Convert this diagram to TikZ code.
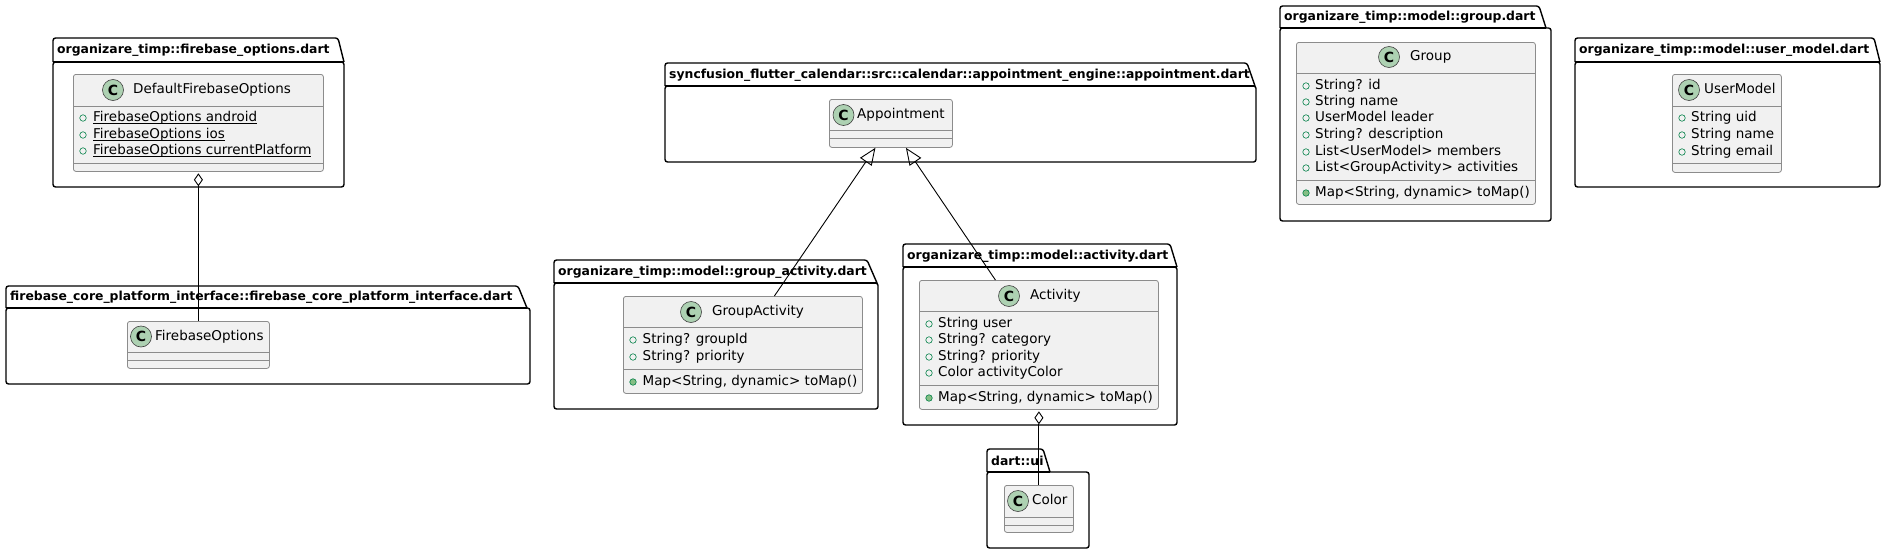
\documentclass[tikz,border=0pt]{standalone}
\usepackage{fontspec}
\setmainfont{DejaVu Sans}
\usetikzlibrary{arrows.meta,calc}
\definecolor{classfill}{HTML}{F1F1F1}
\definecolor{classline}{HTML}{8C8C8C}
\definecolor{iconfill}{HTML}{ADD1B2}
\definecolor{visline}{HTML}{038048}
\definecolor{visfill}{HTML}{84BE84}
\tikzset{
 pkgbox/.style={draw=black, line width=1.4pt, fill=white, rounded corners=2.5pt},
 pkgline/.style={draw=black, line width=1.4pt},
 pkgtitle/.style={anchor=west, inner sep=0pt, font=\fontsize{12.4}{14}\selectfont\bfseries},
 classbox/.style={draw=classline, line width=0.8pt, fill=classfill, rounded corners=2.5pt, inner sep=0pt, anchor=north west},
 sepline/.style={draw=classline, line width=0.8pt},
 cicon/.style={circle, draw=black!75, line width=0.6pt, fill=iconfill, minimum size=21pt, inner sep=0pt, font=\fontsize{14}{14}\selectfont\bfseries},
 ctitle/.style={anchor=west, inner sep=0pt, text height=10pt, text depth=3pt, font=\fontsize{13.5}{16}\selectfont},
 member/.style={anchor=west, inner sep=0pt, text height=10pt, text depth=3pt, font=\fontsize{13.5}{16}\selectfont},
 fieldvis/.style={circle, draw=visline, line width=0.6pt, minimum size=6.5pt, inner sep=0pt},
 methvis/.style={circle, draw=visline, fill=visfill, line width=0.6pt, minimum size=6.5pt, inner sep=0pt},
 link/.style={draw=black, line width=0.9pt},
}
% underline drawn as a rule under the text box
\newcommand\ulx[1]{\setbox0=\hbox{#1}\rlap{\rule[-2.6pt]{\wd0}{0.9pt}}\box0}
% #1 name, #2 x1, #3 ytab, #4 ybody, #5 xtab, #6 xslant, #7 x2, #8 y2, #9 title
\newcommand\umlpkg[9]{%
 \draw[pkgbox] (#2,#4) rectangle (#7,#8);
 \draw[pkgbox] (#2,#4) -- (#2,#3) -- (#5,#3) -- (#6,#4);
 \draw[pkgline] (#2,#4) -- (#6,#4);
 \node[pkgtitle] (#1) at ({#2+4},{(#3+#4)/2+0.5}) {#9};
}
% #1 name, #2 x, #3 y, #4 w, #5 h
\newcommand\umlclass[5]{%
 \node[classbox, minimum width=#4pt, minimum height=#5pt] (#1) at (#2,#3) {};
}
\newcommand\umlsep[3]{\draw[sepline] (#1,#3) -- (#2,#3);}
\begin{document}
\begin{tikzpicture}[x=1pt,y=-1pt]
\useasboundingbox (0,0) rectangle (1886,554);

% ---------- packages ----------
\umlpkg{pA}{53}{38}{62}{338}{344}{344}{187}{organizare\_timp::firebase\_options.dart}
\umlpkg{pB}{6}{286}{308}{518}{527}{530}{384}{firebase\_core\_platform\_interface::firebase\_core\_platform\_interface.dart}
\umlpkg{pC}{665}{63}{86}{1247}{1255}{1256}{162}{syncfusion\_flutter\_calendar::src::calendar::appointment\_engine::appointment.dart}
\umlpkg{pD}{554}{260}{283}{867}{877}{878}{409}{organizare\_timp::model::group\_activity.dart}
\umlpkg{pE}{903}{244}{267}{1170}{1177}{1177}{425}{organizare\_timp::model::activity.dart}
\umlpkg{pF}{1280}{6}{28}{1539}{1546}{1551}{221}{organizare\_timp::model::group.dart}
\umlpkg{pG}{1575}{38}{62}{1874}{1880}{1880}{187}{organizare\_timp::model::user\_model.dart}
\umlpkg{pH}{987}{449}{472}{1043}{1050}{1089}{548}{dart::ui}

% ---------- DefaultFirebaseOptions ----------
\umlclass{dfo}{73}{74}{250}{97}
\node[cicon] (dfo-c) at (113,90) {C};
\node[ctitle] (dfo-t) at (133,90) {DefaultFirebaseOptions};
\umlsep{73}{323}{106}
\node[fieldvis] (dfo-v1) at (83,118) {};
\node[member] (dfo-m1) at (93,118) {\ulx{FirebaseOptions android}};
\node[fieldvis] (dfo-v2) at (83,135) {};
\node[member] (dfo-m2) at (93,135) {\ulx{FirebaseOptions ios}};
\node[fieldvis] (dfo-v3) at (83,151) {};
\node[member] (dfo-m3) at (93,151) {\ulx{FirebaseOptions currentPlatform}};
\umlsep{73}{323}{163}

% ---------- FirebaseOptions ----------
\umlclass{fo}{127}{321}{142}{47}
\node[cicon] (fo-c) at (141,336.5) {C};
\node[ctitle] (fo-t) at (155,336.5) {FirebaseOptions};
\umlsep{127}{269}{352}
\umlsep{127}{269}{360}

% ---------- Appointment ----------
\umlclass{app}{829}{99}{123}{48}
\node[cicon] (app-c) at (843.5,115) {C};
\node[ctitle] (app-t) at (857,115) {Appointment};
\umlsep{829}{952}{130}
\umlsep{829}{952}{138}

% ---------- GroupActivity ----------
\umlclass{ga}{623}{296}{239}{97}
\node[cicon] (ga-c) at (691,312) {C};
\node[ctitle] (ga-t) at (712,312) {GroupActivity};
\umlsep{623}{862}{327}
\node[fieldvis] (ga-v1) at (633,340) {};
\node[member] (ga-m1) at (642.5,340) {String? groupId};
\node[fieldvis] (ga-v2) at (633,357) {};
\node[member] (ga-m2) at (642.5,357) {String? priority};
\umlsep{623}{862}{369}
\node[methvis] (ga-v3) at (633,382) {};
\node[member] (ga-m3) at (642.5,382) {Map<String, dynamic> toMap()};

% ---------- Activity ----------
\umlclass{act}{919}{280}{239}{129}
\node[cicon] (act-c) at (1009,296) {C};
\node[ctitle] (act-t) at (1030,296) {Activity};
\umlsep{919}{1158}{311}
\node[fieldvis] (act-v1) at (929,324) {};
\node[member] (act-m1) at (938,324) {String user};
\node[fieldvis] (act-v2) at (929,340) {};
\node[member] (act-m2) at (938,340) {String? category};
\node[fieldvis] (act-v3) at (929,357) {};
\node[member] (act-m3) at (938,357) {String? priority};
\node[fieldvis] (act-v4) at (929,373) {};
\node[member] (act-m4) at (938,373) {Color activityColor};
\umlsep{919}{1158}{385}
\node[methvis] (act-v5) at (929,398) {};
\node[member] (act-m5) at (938,398) {Map<String, dynamic> toMap()};

% ---------- Group ----------
\umlclass{grp}{1296}{42}{239}{162}
\node[cicon] (grp-c) at (1389,57) {C};
\node[ctitle] (grp-t) at (1410,57) {Group};
\umlsep{1296}{1535}{73}
\node[fieldvis] (grp-v1) at (1306,86) {};
\node[member] (grp-m1) at (1315,86) {String? id};
\node[fieldvis] (grp-v2) at (1306,102) {};
\node[member] (grp-m2) at (1315,102) {String name};
\node[fieldvis] (grp-v3) at (1306,118) {};
\node[member] (grp-m3) at (1315,118) {UserModel leader};
\node[fieldvis] (grp-v4) at (1306,135) {};
\node[member] (grp-m4) at (1315,135) {String? description};
\node[fieldvis] (grp-v5) at (1306,152) {};
\node[member] (grp-m5) at (1315,152) {List<UserModel> members};
\node[fieldvis] (grp-v6) at (1306,168) {};
\node[member] (grp-m6) at (1315,168) {List<GroupActivity> activities};
\umlsep{1296}{1535}{180}
\node[methvis] (grp-v7) at (1306,193) {};
\node[member] (grp-m7) at (1315,193) {Map<String, dynamic> toMap()};

% ---------- UserModel ----------
\umlclass{um}{1672}{74}{109}{98}
\node[cicon] (um-c) at (1689,90) {C};
\node[ctitle] (um-t) at (1704,90) {UserModel};
\umlsep{1672}{1781}{106}
\node[fieldvis] (um-v1) at (1682,118) {};
\node[member] (um-m1) at (1691,118) {String uid};
\node[fieldvis] (um-v2) at (1682,135) {};
\node[member] (um-m2) at (1691,135) {String name};
\node[fieldvis] (um-v3) at (1682,152) {};
\node[member] (um-m3) at (1691,152) {String email};
\umlsep{1672}{1781}{163}

% ---------- Color ----------
\umlclass{col}{1004}{485}{69}{47}
\node[cicon] (col-c) at (1018,501) {C};
\node[ctitle] (col-t) at (1032,501) {Color};
\umlsep{1004}{1073}{517}
\umlsep{1004}{1073}{525}

% ---------- connectors ----------
\draw[link, {Diamond[open,length=13pt,width=9pt]}-] ($(dfo.south)+(0,1.5)$) -- (fo.north);
\draw[link, {Diamond[open,length=13pt,width=9pt]}-] ($(act.south)+(0,1.5)$) -- (col.north);
\draw[link, -{Triangle[open,length=17pt,width=14pt]}] ($(ga.north)+(31.5,0)$) -- ($(app.south)+(-15.5,0)$);
\draw[link, -{Triangle[open,length=17pt,width=14pt]}] ($(act.north)+(-43.5,0)$) -- ($(app.south)+(15,0)$);
\end{tikzpicture}
\end{document}
